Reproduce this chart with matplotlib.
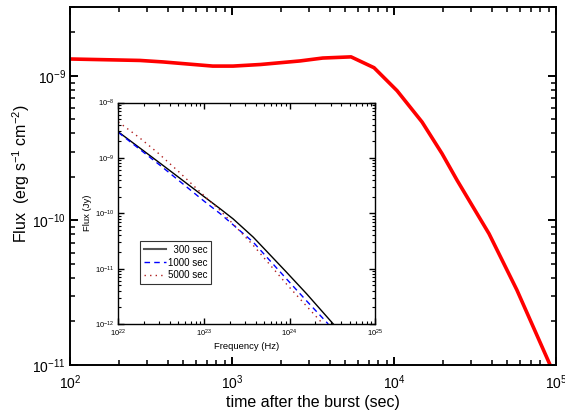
import matplotlib
matplotlib.use("Agg")
from matplotlib import pyplot
from matplotlib.ticker import LogLocator, NullFormatter

pyplot.rcParams["font.family"] = ["Liberation Sans", "DejaVu Sans"]
pyplot.rcParams["mathtext.fontset"] = "custom"
pyplot.rcParams["mathtext.rm"] = "Liberation Sans"
pyplot.rcParams["mathtext.it"] = "Liberation Sans:italic"

# light curve (main panel)
time_sec = [100, 270, 375, 760, 1015, 1500, 2630, 3630, 5430, 7530, 10450,
            14900, 19800, 24500, 38600, 57400, 92000]
flux_cgs = [1.31e-9, 1.28e-9, 1.25e-9, 1.17e-9, 1.17e-9, 1.2e-9, 1.27e-9,
            1.33e-9, 1.355e-9, 1.14e-9, 7.9e-10, 4.8e-10, 2.9e-10, 1.9e-10,
            8.1e-11, 3.3e-11, 1.0e-11]

# spectra (inset)
freq_300 = [1e22, 3.16e22, 1e23, 1.55e23, 2.19e23, 3.76e23, 9.2e23, 1.58e24, 3.23e24]
flux_300 = [2.95e-9, 7.76e-10, 2.0e-10, 1.2e-10, 7.9e-11, 3.7e-11, 8.6e-12,
            3.5e-12, 1.0e-12]
freq_1000 = [1e22, 3.16e22, 1e23, 1.55e23, 3.76e23, 9.2e23, 1.58e24, 2.82e24]
flux_1000 = [2.88e-9, 7.1e-10, 1.66e-10, 9.8e-11, 3.0e-11, 6.5e-12, 2.6e-12, 1.0e-12]
freq_5000 = [1e22, 1.78e22, 2.95e22, 5.0e22, 1e23, 1.55e23, 3.76e23, 9.2e23,
             1.58e24, 2.45e24]
flux_5000 = [4.47e-9, 2.29e-9, 1.2e-9, 5.75e-10, 2.09e-10, 1.12e-10, 2.63e-11,
             5.25e-12, 2.09e-12, 1.0e-12]


def style_log_axes(ax, major_len, minor_len, width):
    for spine in ax.spines.values():
        spine.set_linewidth(width)
    ax.xaxis.set_minor_locator(LogLocator(base=10, subs=range(2, 10), numticks=20))
    ax.yaxis.set_minor_locator(LogLocator(base=10, subs=range(2, 10), numticks=20))
    ax.xaxis.set_minor_formatter(NullFormatter())
    ax.yaxis.set_minor_formatter(NullFormatter())
    ax.tick_params(which="both", direction="in", top=True, right=True)
    ax.tick_params(which="major", length=major_len, width=width)
    ax.tick_params(which="minor", length=minor_len, width=width * 0.8)


fig = pyplot.figure(figsize=(5.65, 4.11), dpi=100)
ax = fig.add_axes([0.124, 0.112, 0.860, 0.871])
ax.plot(time_sec, flux_cgs, color="#ff0000", linewidth=2.6, solid_joinstyle="round")
ax.set_xscale("log")
ax.set_yscale("log")
ax.set_xlim(100, 1e5)
ax.set_ylim(1e-11, 3.0e-9)
style_log_axes(ax, 6, 3.5, 1.4)
ax.tick_params(which="major", labelsize=10)
ax.tick_params(axis="y", which="major", pad=3)
ax.tick_params(axis="x", which="major", pad=6)
ax.set_xlabel("time after the burst (sec)", fontsize=11.5, labelpad=2)
ax.set_ylabel("Flux  (erg s$^{-1}$ cm$^{-2}$)", fontsize=11.5)
ax.yaxis.set_label_coords(-0.078, 0.536)

inset = fig.add_axes([0.2094, 0.2117, 0.4549, 0.5389])
inset.plot(freq_300, flux_300, color="black", linewidth=1.0, label="  300 sec")
inset.plot(freq_1000, flux_1000, color="#0000ff", linewidth=1.0,
           linestyle=(0, (4, 3)), label="1000 sec")
inset.plot(freq_5000, flux_5000, color="#b02020", linewidth=1.0,
           linestyle=(0, (1, 3)), label="5000 sec")
inset.set_xscale("log")
inset.set_yscale("log")
inset.set_xlim(1e22, 1e25)
inset.set_ylim(1e-12, 1e-8)
style_log_axes(inset, 4, 2, 1.0)
inset.tick_params(which="major", labelsize=5.5, pad=3)
inset.set_xlabel("Frequency (Hz)", fontsize=6.8, labelpad=2)
inset.set_ylabel("Flux (Jy)", fontsize=6.8, labelpad=2)
leg = inset.legend(loc="lower left", bbox_to_anchor=(0.086, 0.181), fontsize=7,
                   frameon=True, fancybox=False, edgecolor="black",
                   handlelength=2.3, handletextpad=0.2, borderpad=0.35,
                   labelspacing=0.3, borderaxespad=0)
leg.get_frame().set_linewidth(0.8)
leg.get_lines()[0].set_color("#555555")
leg.get_lines()[0].set_linewidth(1.5)

fig.savefig("out.png", dpi=100)
